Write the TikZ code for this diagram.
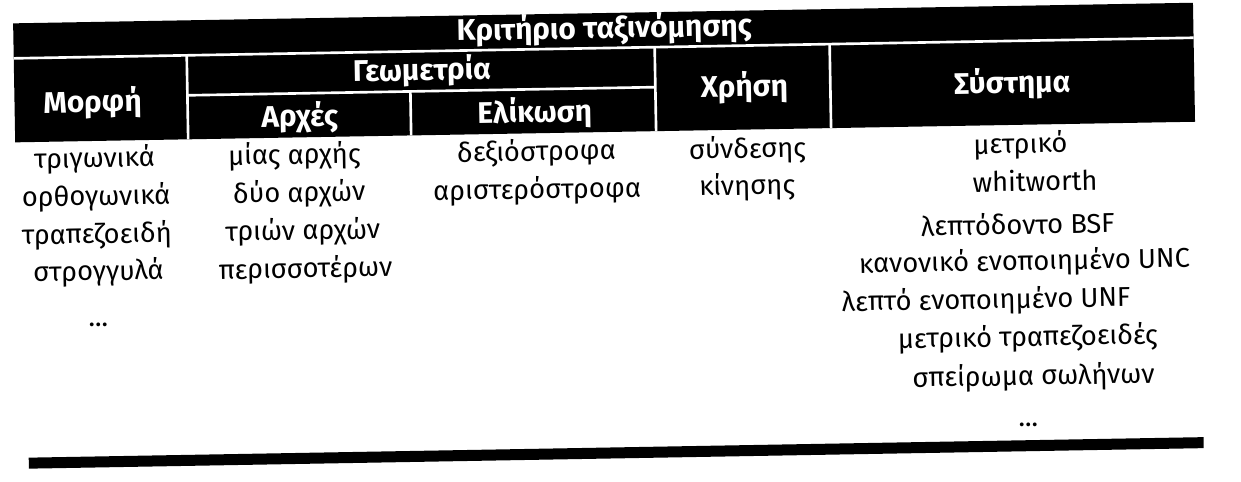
\documentclass[tikz,border=0pt]{standalone}
\usepackage{fontspec}
\setmainfont{Fira Sans}
\usetikzlibrary{positioning}

\begin{document}
\begin{tikzpicture}[x=0.02cm, y=-0.02cm,
    head node/.style={text=white, inner sep=0pt, font=\bfseries\fontsize{17}{20}\selectfont},
    cell node/.style={inner sep=0pt, text height=1.9ex, text depth=.5ex, font=\fontsize{15.5}{18}\selectfont},
    rule line/.style={white, line width=1.5pt}]
\useasboundingbox (0,0) rectangle (1241,481);

\begin{scope}[rotate around={1:(608,240)}, transform shape]
% black bands
\fill (17,13) rectangle (1197,132);
\fill (25,447.5) rectangle (1200,458.5);

% white rules in the heading
\coordinate (tl) at (17,48);
\coordinate (tr) at (1197,48);
\coordinate (ga) at (190,88);
\coordinate (gb) at (658,88);
\draw[rule line] (tl) -- (tr);
\draw[rule line] (ga) -- (gb);
\foreach \x/\t in {190/48, 413/88, 658/48, 833/48}
    \draw[rule line] (\x,\t) -- (\x,132);

% heading
\node[head node] (crit) at (608,29) {Κριτήριο ταξινόμησης};
\node[head node] (morf) at (95,94) {Μορφή};
\node[head node] (geom) at (425,68) {Γεωμετρία};
\node[head node] (arx) at (302,112) {Αρχές};
\node[head node] (elik) at (537,112) {Ελίκωση};
\node[head node] (xrisi) at (747,90) {Χρήση};
\node[head node] (syst) at (1015,91) {Σύστημα};

% Μορφή
\node[cell node] (m1) at (96,152) {τριγωνικά};
\node[cell node] (m2) at (97,190) {ορθογωνικά};
\node[cell node] (m3) at (97,228) {τραπεζοειδή};
\node[cell node] (m4) at (98,265) {στρογγυλά};
\node[cell node] (m5) at (97,311) {...};

% Αρχές
\node[cell node] (a1) at (296,152) {μίας αρχής};
\node[cell node] (a2) at (300,190) {δύο αρχών};
\node[cell node] (a3) at (303,228) {τριών αρχών};
\node[cell node] (a4) at (305,266) {περισσοτέρων};

% Ελίκωση
\node[cell node] (e1) at (538,153) {δεξιόστροφα};
\node[cell node] (e2) at (538,191) {αριστερόστροφα};

% Χρήση
\node[cell node] (x1) at (749,154) {σύνδεσης};
\node[cell node] (x2) at (748,191) {κίνησης};

% Σύστημα
\node[cell node] (s1) at (1022,154) {μετρικό};
\node[cell node] (s2) at (1036,192) {whitworth};
\node[cell node] (s3) at (1018,235) {λεπτόδοντο BSF};
\node[cell node] (s4) at (1024,271) {κανονικό ενοποιημένο UNC};
\node[cell node] (s5) at (985,309) {λεπτό ενοποιημένο UNF};
\node[cell node] (s6) at (1026,347) {μετρικό τραπεζοειδές};
\node[cell node] (s7) at (1031,386) {σπείρωμα σωλήνων};
\node[cell node] (s8) at (1025,427) {...};
\end{scope}
\end{tikzpicture}
\end{document}
